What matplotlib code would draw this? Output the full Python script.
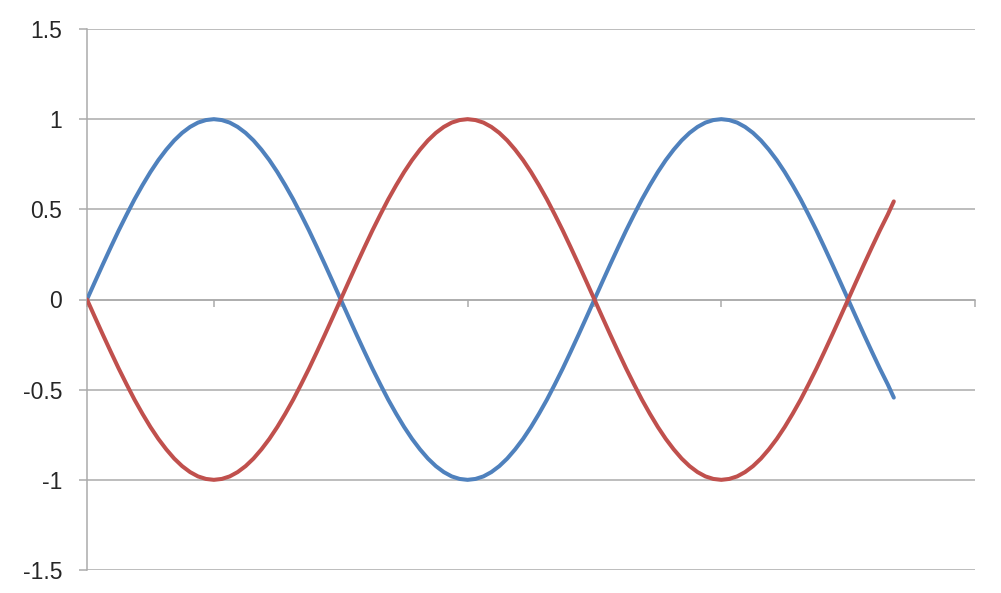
import matplotlib
matplotlib.use("Agg")
from matplotlib import pyplot as plt

# one x unit = one axis tick = a quarter period; samples every 1/16 unit
x_vals = [0, 0.0625, 0.125, 0.1875, 0.25, 0.3125, 0.375, 0.4375,
          0.5, 0.5625, 0.625, 0.6875, 0.75, 0.8125, 0.875, 0.9375,
          1, 1.0625, 1.125, 1.1875, 1.25, 1.3125, 1.375, 1.4375,
          1.5, 1.5625, 1.625, 1.6875, 1.75, 1.8125, 1.875, 1.9375,
          2, 2.0625, 2.125, 2.1875, 2.25, 2.3125, 2.375, 2.4375,
          2.5, 2.5625, 2.625, 2.6875, 2.75, 2.8125, 2.875, 2.9375,
          3, 3.0625, 3.125, 3.1875, 3.25, 3.3125, 3.375, 3.4375,
          3.5, 3.5625, 3.625, 3.6875, 3.75, 3.8125, 3.875, 3.9375,
          4, 4.0625, 4.125, 4.1875, 4.25, 4.3125, 4.375, 4.4375,
          4.5, 4.5625, 4.625, 4.6875, 4.75, 4.8125, 4.875, 4.9375,
          5, 5.0625, 5.125, 5.1875, 5.25, 5.3125, 5.375, 5.4375,
          5.5, 5.5625, 5.625, 5.6875, 5.75, 5.8125, 5.875, 5.9375,
          6, 6.0625, 6.125, 6.1875, 6.25, 6.3125, 6.36]

blue_vals = [0, 0.098, 0.195, 0.290, 0.383, 0.471, 0.556, 0.634,
             0.707, 0.773, 0.831, 0.882, 0.924, 0.957, 0.981, 0.995,
             1, 0.995, 0.981, 0.957, 0.924, 0.882, 0.831, 0.773,
             0.707, 0.634, 0.556, 0.471, 0.383, 0.290, 0.195, 0.098,
             0, -0.098, -0.195, -0.290, -0.383, -0.471, -0.556, -0.634,
             -0.707, -0.773, -0.831, -0.882, -0.924, -0.957, -0.981, -0.995,
             -1, -0.995, -0.981, -0.957, -0.924, -0.882, -0.831, -0.773,
             -0.707, -0.634, -0.556, -0.471, -0.383, -0.290, -0.195, -0.098,
             0, 0.098, 0.195, 0.290, 0.383, 0.471, 0.556, 0.634,
             0.707, 0.773, 0.831, 0.882, 0.924, 0.957, 0.981, 0.995,
             1, 0.995, 0.981, 0.957, 0.924, 0.882, 0.831, 0.773,
             0.707, 0.634, 0.556, 0.471, 0.383, 0.290, 0.195, 0.098,
             0, -0.098, -0.195, -0.290, -0.383, -0.471, -0.544]

red_vals = [0, -0.098, -0.195, -0.290, -0.383, -0.471, -0.556, -0.634,
            -0.707, -0.773, -0.831, -0.882, -0.924, -0.957, -0.981, -0.995,
            -1, -0.995, -0.981, -0.957, -0.924, -0.882, -0.831, -0.773,
            -0.707, -0.634, -0.556, -0.471, -0.383, -0.290, -0.195, -0.098,
            0, 0.098, 0.195, 0.290, 0.383, 0.471, 0.556, 0.634,
            0.707, 0.773, 0.831, 0.882, 0.924, 0.957, 0.981, 0.995,
            1, 0.995, 0.981, 0.957, 0.924, 0.882, 0.831, 0.773,
            0.707, 0.634, 0.556, 0.471, 0.383, 0.290, 0.195, 0.098,
            0, -0.098, -0.195, -0.290, -0.383, -0.471, -0.556, -0.634,
            -0.707, -0.773, -0.831, -0.882, -0.924, -0.957, -0.981, -0.995,
            -1, -0.995, -0.981, -0.957, -0.924, -0.882, -0.831, -0.773,
            -0.707, -0.634, -0.556, -0.471, -0.383, -0.290, -0.195, -0.098,
            0, 0.098, 0.195, 0.290, 0.383, 0.471, 0.544]

y_ticks = [-1.5, -1, -0.5, 0, 0.5, 1, 1.5]
y_labels = ["-1.5", "-1", "-0.5", "0", "0.5", "1", "1.5"]
x_ticks = [0, 1, 2, 3, 4, 5, 6, 7]

grid_col = "#ababab"

plt.rcParams["font.family"] = ["Liberation Sans", "DejaVu Sans"]

fig = plt.figure(figsize=(10.01, 5.93), dpi=100)
ax = fig.add_axes([87 / 1001, 1 - 570 / 593, 888 / 1001, 541 / 593])

ax.plot(x_vals, blue_vals, color="#4f81bd", lw=2.9, solid_capstyle="round",
        solid_joinstyle="round", zorder=3)
ax.plot(x_vals, red_vals, color="#c0504d", lw=2.9, solid_capstyle="round",
        solid_joinstyle="round", zorder=3)

ax.set_xlim(0, 7)
ax.set_ylim(-1.5, 1.5)

ax.set_yticks(y_ticks)
ax.set_yticklabels(y_labels)
ax.set_xticks(x_ticks)
ax.set_xticklabels([])

ax.grid(axis="y", color=grid_col, lw=1.1)
ax.set_axisbelow(True)

for side in ["top", "right"]:
    ax.spines[side].set_visible(False)
ax.spines["left"].set_color(grid_col)
ax.spines["left"].set_linewidth(1.1)
ax.spines["bottom"].set_position(("data", 0))
ax.spines["bottom"].set_color(grid_col)
ax.spines["bottom"].set_linewidth(1.1)

ax.tick_params(axis="y", direction="out", length=6, width=1.1, color=grid_col,
               labelsize=16.5, labelcolor="#262626", pad=12)
ax.tick_params(axis="x", direction="out", length=5, width=1.1, color=grid_col)

fig.savefig("out.png", dpi=100, facecolor="white")
